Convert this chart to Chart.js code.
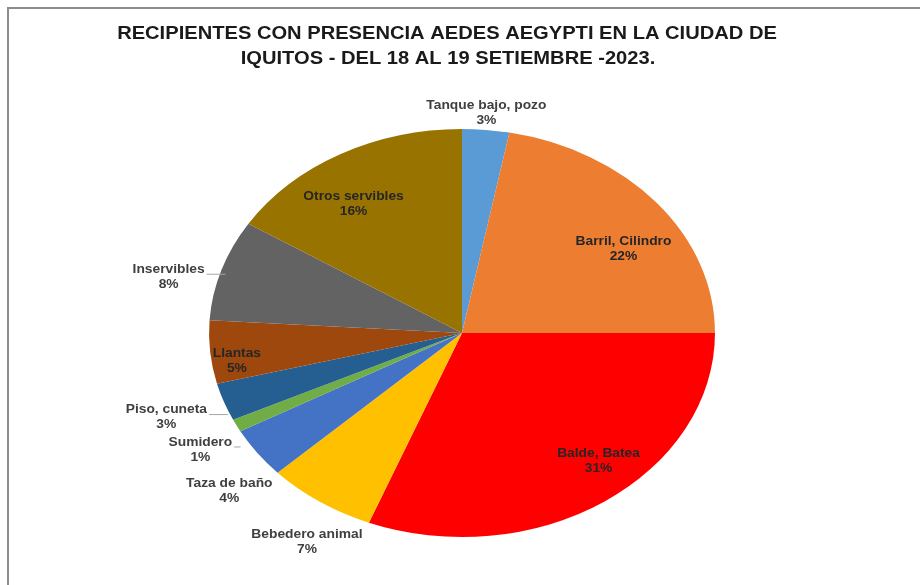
<!DOCTYPE html>
<html>
<head>
<meta charset="utf-8">
<script src="https://cdn.jsdelivr.net/npm/chart.js@4/dist/chart.umd.min.js"></script>
<style>
  body { margin: 0; background: #fff; }
  #wrap { position: absolute; left: 0; top: 0; width: 920px; height: 585px; }
</style>
</head>
<body>
<div id="wrap"><canvas id="grafico" width="920" height="585"></canvas></div>
<script>
// donnees du graphique
const titre = ["RECIPIENTES CON PRESENCIA AEDES AEGYPTI EN LA CIUDAD DE", "IQUITOS - DEL 18 AL 19 SETIEMBRE -2023."];
const categories = ["Tanque bajo, pozo", "Barril, Cilindro", "Balde, Batea", "Bebedero animal", "Taza de baño",
    "Sumidero", "Piso, cuneta", "Llantas", "Inservibles", "Otros servibles"];
const pourcentages = [3, 22, 31, 7, 4, 1, 3, 5, 8, 16];
const couleurs = ["#5B9BD5", "#ED7D31", "#FF0000", "#FFC000", "#4472C4",
    "#70AD47", "#255E91", "#9E480E", "#636363", "#997300"];
// etiquette a l'interieur (true) ou a l'exterieur (false)
const dedans = [false, true, true, false, false, false, false, true, false, true];
// petits decalages des etiquettes, comme dans l'original
const decalages = [[-6, 8], [-12, 10], [10, 7], [24, 20], [15, 24], [1, 13], [-10, 7], [-1, 14], [-9, 15], [0, 0]];

const etirement = 1.24;   // le camembert est ovale
const etirementTexte = 1.15;

function texteEtire(ctx, str, x, y) {
    ctx.save();
    ctx.translate(x, y);
    ctx.scale(etirementTexte, 1);
    ctx.fillText(str, 0, 0);
    ctx.restore();
}

const pluginOvale = {
    id: "ovale",
    beforeDraw(chart) {
        const ctx = chart.ctx;
        ctx.save();
        ctx.strokeStyle = "#8c8c8c";
        ctx.lineWidth = 2;
        ctx.beginPath();
        ctx.moveTo(8, 585);
        ctx.lineTo(8, 8);
        ctx.lineTo(920, 8);
        ctx.stroke();
        // titre
        ctx.fillStyle = "#1a1a1a";
        ctx.font = "bold 17.5px 'Liberation Sans'";
        ctx.textAlign = "center";
        ctx.textBaseline = "middle";
        texteEtire(ctx, titre[0], 447, 34);
        texteEtire(ctx, titre[1], 448, 59);
        ctx.restore();
    },
    beforeDatasetsDraw(chart) {
        const arc = chart.getDatasetMeta(0).data[0];
        const ctx = chart.ctx;
        ctx.save();
        ctx.translate(arc.x, arc.y);
        ctx.scale(etirement, 1);
        ctx.translate(-arc.x, -arc.y);
    },
    afterDatasetsDraw(chart) {
        const ctx = chart.ctx;
        ctx.restore();
        const arcs = chart.getDatasetMeta(0).data;
        ctx.save();
        ctx.font = "bold 12px 'Liberation Sans'";
        ctx.textAlign = "center";
        ctx.textBaseline = "middle";
        for (let i = 0; i < arcs.length; i++) {
            const a = arcs[i];
            const ang = (a.startAngle + a.endAngle) / 2;
            const rx = a.outerRadius * etirement, ry = a.outerRadius;
            const cos = Math.cos(ang), sin = Math.sin(ang);
            const ligne2 = pourcentages[i] + "%";
            let x, y;
            if (dedans[i]) {
                x = a.x + rx * 0.89 * cos + decalages[i][0];
                y = a.y + ry * 0.72 * sin + decalages[i][1];
                ctx.fillStyle = "#262626";
            } else {
                const w = ctx.measureText(categories[i]).width * etirementTexte;
                const px = a.x + rx * cos, py = a.y + ry * sin;
                x = px + (w / 2 + 10) * cos + decalages[i][0];
                y = py + 25 * sin + decalages[i][1];
                ctx.fillStyle = "#404040";
                if (cos < -0.85) {
                    // ligne de rappel
                    ctx.strokeStyle = "#a6a6a6";
                    ctx.lineWidth = 1;
                    ctx.beginPath();
                    ctx.moveTo(x + w / 2 + 2, y - 3);
                    ctx.lineTo(px + 4, y - 3);
                    ctx.stroke();
                }
            }
            texteEtire(ctx, categories[i], x, y - 7.5);
            texteEtire(ctx, ligne2, x, y + 7.5);
        }
        ctx.restore();
    }
};

const data = {
    labels: categories,
    datasets: [{
        data: pourcentages,
        backgroundColor: couleurs,
        borderWidth: 0
    }]
};

const config = {
    type: "pie",
    data: data,
    options: {
        responsive: false,
        animation: false,
        layout: { padding: { top: 129, bottom: 48, left: 200, right: 196 } },
        plugins: {
            legend: { display: false },
            tooltip: { enabled: false },
            title: { display: false }
        }
    },
    plugins: [pluginOvale]
};

new Chart(document.querySelector("#grafico"), config);
</script>
</body>
</html>
